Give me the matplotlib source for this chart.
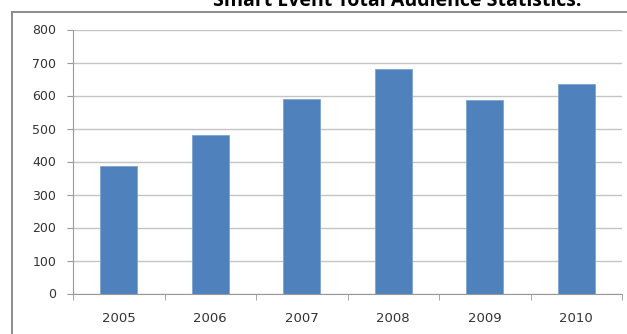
""" smart event audience bar chart """

import matplotlib
matplotlib.use("Agg")
import matplotlib.pyplot
import matplotlib.patches
import numpy

YEARS = ["2005", "2006", "2007", "2008", "2009", "2010"]
AUDIENCE = [385, 480, 590, 680, 585, 635]
YTICKS = [0, 100, 200, 300, 400, 500, 600, 700, 800]

TITLE = "Smart Event Total Audience Statistics:"
PLOT = "out.png"


def plot_audience():
    matplotlib.pyplot.rcParams["font.family"] = ["DejaVu Sans"]

    fig = matplotlib.pyplot.figure(figsize=(6.27, 3.34), dpi=100)
    W, H = 627.0, 334.0

    # outer chart frame, cut off at right and bottom
    frame = matplotlib.patches.Rectangle((12 / W, -0.05), 1.2, 1 - 12 / H + 0.05,
        transform=fig.transFigure, fill=False, edgecolor="#8c8c8c", linewidth=1.4)
    fig.patches.append(frame)

    # title, mostly cut off at the top
    fig.text(397 / W, 1 - 6 / H, TITLE, ha="center", va="baseline",
        fontsize=14, fontweight="bold", family=["Open Sans", "DejaVu Sans"])

    left, right = 73 / W, 622 / W
    bottom, top = 1 - 293.5 / H, 1 - 29.5 / H
    ax = fig.add_axes([left, bottom, right - left, top - bottom])

    indexes = numpy.arange(len(YEARS))
    ax.bar(indexes, AUDIENCE, 0.4, color="#4f81bd", edgecolor="#7ea3d2",
        linewidth=0.6, zorder=3)

    ax.set_xlim(-0.5, len(YEARS) - 0.5)
    ax.set_ylim(0, 800)
    ax.set_yticks(YTICKS)
    ax.set_yticklabels([str(v) for v in YTICKS])
    ax.yaxis.grid(True, color="#c4c4c4", linewidth=1.0, zorder=0)

    ax.set_xticks(indexes)
    ax.set_xticklabels(YEARS)
    ax.set_xticks(numpy.arange(len(YEARS) + 1) - 0.5, minor=True)
    ax.tick_params(axis="x", which="major", length=0, pad=13, labelsize=9.5, colors="#333333")
    ax.tick_params(axis="x", which="minor", length=4, color="#999999", direction="out")
    ax.tick_params(axis="y", length=4, color="#999999", pad=8, labelsize=9, labelcolor="#333333")

    for side in ["top", "right"]:
        ax.spines[side].set_visible(False)
    ax.spines["left"].set_color("#999999")
    ax.spines["bottom"].set_color("#999999")

    matplotlib.pyplot.savefig(PLOT, dpi=100)
    matplotlib.pyplot.close()


if __name__ == "__main__":
    plot_audience()
